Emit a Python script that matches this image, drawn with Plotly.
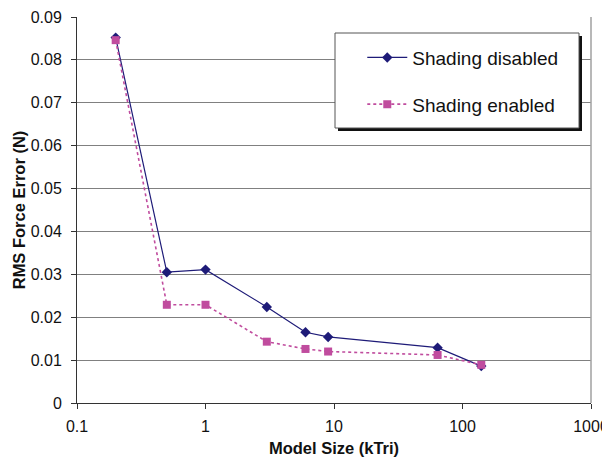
import plotly.graph_objects as go

model_size = [0.2, 0.5, 1, 3, 6, 9, 64, 140]
shading_disabled = [0.0852, 0.0305, 0.0311, 0.0224, 0.0165, 0.0154, 0.0129, 0.0086]
shading_enabled = [0.0846, 0.0229, 0.0229, 0.0143, 0.0126, 0.0120, 0.0112, 0.0089]

x_ticks = [0.1, 1, 10, 100, 1000]
x_ticktext = ["0.1", "1", "10", "100", "1000"]

NAVY = "#1E1B78"
MAGENTA = "#C04C9E"
FONT = "Liberation Sans, Arial, sans-serif"

fig = go.Figure()
fig.add_trace(go.Scatter(
    x=model_size, y=shading_disabled, mode="lines+markers", name="Shading disabled",
    line=dict(color=NAVY, width=1.2),
    marker=dict(symbol="diamond", size=8, color=NAVY),
    legendgroup="a",
))
fig.add_trace(go.Scatter(
    x=model_size, y=shading_enabled, mode="lines+markers", name="Shading enabled",
    line=dict(color=MAGENTA, width=1.6, dash="dot"),
    marker=dict(symbol="square", size=8, color=MAGENTA),
    legendgroup="b",
))

fig.update_layout(
    width=602, height=449,
    margin=dict(l=69, r=19, t=9, b=54),
    paper_bgcolor="white", plot_bgcolor="white",
    font=dict(family=FONT, size=16, color="#111111"),
    showlegend=True,
    legend=dict(
        x=0.555, y=0.944, xanchor="left", yanchor="top",
        bgcolor="rgba(0,0,0,0)", borderwidth=0,
        font=dict(size=19, family=FONT, color="#111111"),
        traceorder="grouped", tracegroupgap=19,
        itemwidth=40,
    ),
    xaxis=dict(
        type="log", range=[-1, 3], automargin=False,
        tickvals=x_ticks, ticktext=x_ticktext,
        showgrid=False, showline=True, linecolor="#333333", linewidth=1,
        ticks="outside", ticklen=5, tickcolor="#333333",
        ticklabelstandoff=4,
        title=dict(text="<b>Model Size (kTri)</b>", font=dict(size=16.5), standoff=10),
        zeroline=False,
    ),
    yaxis=dict(
        range=[0, 0.09], dtick=0.01, automargin=False,
        showgrid=True, gridcolor="#808080", gridwidth=1,
        showline=True, linecolor="#333333", linewidth=1,
        ticks="outside", ticklen=5, tickcolor="#333333",
        ticklabelstandoff=6,
        title=dict(text="<b>RMS Force Error (N)</b>", font=dict(size=16.5), standoff=0),
        zeroline=False,
    ),
    shapes=[
        dict(type="line", xref="paper", yref="paper", x0=1, x1=1, y0=0, y1=1,
             line=dict(color="#A0A0A0", width=1.5)),
        # legend shadow
        dict(type="rect", xref="paper", yref="paper",
             x0=(338 - 77) / 514, x1=(582 - 77) / 514,
             y0=(403 - 131) / 386, y1=(403 - 36) / 386,
             fillcolor="#111111", line=dict(width=0), layer="above"),
        # legend box
        dict(type="rect", xref="paper", yref="paper",
             x0=(335 - 77) / 514, x1=(579 - 77) / 514,
             y0=(403 - 128) / 386, y1=(403 - 33) / 386,
             fillcolor="white", line=dict(color="#555555", width=1), layer="above"),
    ],
)

fig.write_html("out.html")
